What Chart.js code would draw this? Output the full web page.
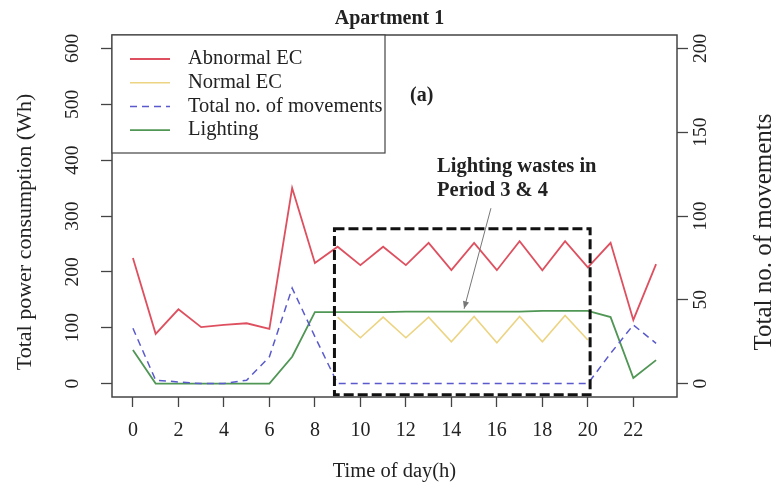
<!DOCTYPE html>
<html>
<head>
<meta charset="utf-8">
<script src="https://cdn.jsdelivr.net/npm/chart.js@4.4.1/dist/chart.umd.min.js"></script>
<style>
  html, body { margin: 0; padding: 0; background: #fff; }
</style>
</head>
<body>
<canvas id="chart" width="779" height="495"></canvas>
<script>
// data
const hours = [0, 1, 2, 3, 4, 5, 6, 7, 8, 9, 10, 11, 12, 13, 14, 15, 16, 17, 18, 19, 20, 21, 22, 23];
const abnormalEC = [225, 89, 133, 101, 105, 108, 98, 350, 216, 245, 212, 245, 212, 252, 203, 252, 203, 255, 203, 255, 208, 252, 114, 214];
const normalEC = [null, null, null, null, null, null, null, null, null, 119, 82, 119, 82, 119, 75, 120, 73, 120, 75, 122, 78, null, null, null];
const movements = [33, 2, 1, 0, 0, 2, 16, 57, 28, 0, 0, 0, 0, 0, 0, 0, 0, 0, 0, 0, 0, 18, 35, 24];
const lighting = [60, 0, 0, 0, 0, 0, 0, 48, 128, 128, 128, 128, 129, 129, 129, 129, 129, 129, 130, 130, 130, 119, 10, 42];

const xTicks = [0, 2, 4, 6, 8, 10, 12, 14, 16, 18, 20, 22];
const powerTicks = [0, 100, 200, 300, 400, 500, 600];
const moveTicks = [0, 50, 100, 150, 200];

const SERIF = "'Liberation Serif', 'DejaVu Serif', serif";
const TEXT = "#222";

const pts = arr => hours.map((h, i) => ({ x: h, y: arr[i] }));

// draws the box, rotated labels, legend and the annotation
const extras = {
    id: "extras",
    afterDatasetsDraw(chart) {
        const ctx = chart.ctx;
        const a = chart.chartArea;
        const sx = chart.scales.x, sy = chart.scales.y, sy2 = chart.scales.y2;
        ctx.save();

        // dashed "period 3 & 4" box
        ctx.strokeStyle = "#111";
        ctx.lineWidth = 3;
        ctx.setLineDash([10, 4]);
        const bx1 = sx.getPixelForValue(8.86), bx2 = sx.getPixelForValue(20.1);
        const by1 = sy.getPixelForValue(277), by2 = sy.getPixelForValue(-20);
        ctx.strokeRect(bx1, by1, bx2 - bx1, by2 - by1);
        ctx.setLineDash([]);

        // plot border
        ctx.strokeStyle = "#444";
        ctx.lineWidth = 1.5;
        ctx.strokeRect(a.left, a.top, a.right - a.left, a.bottom - a.top);

        // arrow
        const ax1 = sx.getPixelForValue(15.74), ay1 = sy.getPixelForValue(314);
        const ax2 = sx.getPixelForValue(14.56), ay2 = sy.getPixelForValue(134);
        ctx.strokeStyle = "#777";
        ctx.fillStyle = "#777";
        ctx.lineWidth = 1;
        ctx.beginPath(); ctx.moveTo(ax1, ay1); ctx.lineTo(ax2, ay2); ctx.stroke();
        const ang = Math.atan2(ay2 - ay1, ax2 - ax1);
        ctx.beginPath();
        ctx.moveTo(ax2, ay2);
        ctx.lineTo(ax2 - 8 * Math.cos(ang - 0.4), ay2 - 8 * Math.sin(ang - 0.4));
        ctx.lineTo(ax2 - 8 * Math.cos(ang + 0.4), ay2 - 8 * Math.sin(ang + 0.4));
        ctx.closePath(); ctx.fill();

        // annotation text
        ctx.fillStyle = TEXT;
        ctx.font = "bold 20.5px " + SERIF;
        ctx.textAlign = "left";
        ctx.textBaseline = "middle";
        ctx.fillText("Lighting wastes in", sx.getPixelForValue(13.37), sy.getPixelForValue(388));
        ctx.fillText("Period 3 & 4", sx.getPixelForValue(13.37), sy.getPixelForValue(346));
        ctx.font = "bold 20px " + SERIF;
        ctx.fillText("(a)", 410, 96);

        // legend
        ctx.fillStyle = "#fff";
        ctx.fillRect(a.left, a.top, 273, 118);
        ctx.strokeStyle = "#444";
        ctx.lineWidth = 1.2;
        ctx.strokeRect(a.left, a.top, 273, 118);
        ctx.font = "20.5px " + SERIF;
        chart.data.datasets.forEach((ds, i) => {
            const y = a.top + 24 + i * 23.7;
            ctx.strokeStyle = ds.borderColor;
            ctx.lineWidth = ds.borderWidth;
            ctx.setLineDash(ds.borderDash || []);
            ctx.beginPath(); ctx.moveTo(a.left + 18, y); ctx.lineTo(a.left + 58, y); ctx.stroke();
            ctx.setLineDash([]);
            ctx.fillStyle = TEXT;
            ctx.fillText(ds.label, a.left + 76, y);
        });

        // rotated y tick labels
        ctx.font = "19.5px " + SERIF;
        ctx.textAlign = "center";
        ctx.fillStyle = TEXT;
        const rotText = (txt, x, y) => {
            ctx.save(); ctx.translate(x, y); ctx.rotate(-Math.PI / 2);
            ctx.fillText(txt, 0, 0); ctx.restore();
        };
        powerTicks.forEach(v => rotText(String(v), 73, sy.getPixelForValue(v)));
        moveTicks.forEach(v => rotText(String(v), 701, sy2.getPixelForValue(v)));

        // axis titles
        ctx.font = "22px " + SERIF;
        rotText("Total power consumption (Wh)", 25, 232);
        ctx.font = "25px " + SERIF;
        rotText("Total no. of movements", 764, 232);
        ctx.font = "20.5px " + SERIF;
        ctx.fillText("Time of day(h)", (a.left + a.right) / 2, 472);

        ctx.restore();
    }
};

new Chart(document.getElementById("chart").getContext("2d"), {
    type: "line",
    data: {
        datasets: [
            {
                label: "Abnormal EC",
                data: pts(abnormalEC),
                borderColor: "rgb(222, 80, 95)",
                borderWidth: 1.8,
                yAxisID: "y"
            },
            {
                label: "Normal EC",
                data: pts(normalEC),
                borderColor: "rgb(236, 212, 130)",
                borderWidth: 1.6,
                yAxisID: "y"
            },
            {
                label: "Total no. of movements",
                data: pts(movements),
                borderColor: "rgb(90, 90, 205)",
                borderWidth: 1.5,
                borderDash: [7, 5],
                yAxisID: "y2"
            },
            {
                label: "Lighting",
                data: pts(lighting),
                borderColor: "rgb(80, 150, 85)",
                borderWidth: 1.8,
                yAxisID: "y"
            }
        ]
    },
    options: {
        responsive: false,
        animation: false,
        elements: { point: { radius: 0 }, line: { tension: 0 } },
        layout: { padding: 0 },
        plugins: {
            legend: { display: false },
            tooltip: { enabled: false },
            title: {
                display: true,
                text: "Apartment 1",
                color: TEXT,
                font: { family: SERIF, size: 20, weight: "bold" },
                padding: { top: 7, bottom: 4 }
            }
        },
        scales: {
            x: {
                type: "linear",
                min: -0.92,
                max: 23.92,
                afterBuildTicks: s => { s.ticks = xTicks.map(v => ({ value: v })); },
                afterFit: s => { s.height = 98; },
                border: { display: false },
                grid: { drawOnChartArea: false, tickLength: 10, tickColor: "#444", tickWidth: 1.3 },
                ticks: { color: TEXT, padding: 12, font: { family: SERIF, size: 20 } }
            },
            y: {
                position: "left",
                min: -24,
                max: 624,
                afterBuildTicks: s => { s.ticks = powerTicks.map(v => ({ value: v })); },
                afterFit: s => { s.width = 112; },
                border: { display: false },
                grid: { drawOnChartArea: false, tickLength: 11, tickColor: "#444", tickWidth: 1.3 },
                ticks: { display: false }
            },
            y2: {
                position: "right",
                min: -8,
                max: 208,
                afterBuildTicks: s => { s.ticks = moveTicks.map(v => ({ value: v })); },
                afterFit: s => { s.width = 102; },
                border: { display: false },
                grid: { drawOnChartArea: false, tickLength: 11, tickColor: "#444", tickWidth: 1.3 },
                ticks: { display: false }
            }
        }
    },
    plugins: [extras]
});
</script>
</body>
</html>
